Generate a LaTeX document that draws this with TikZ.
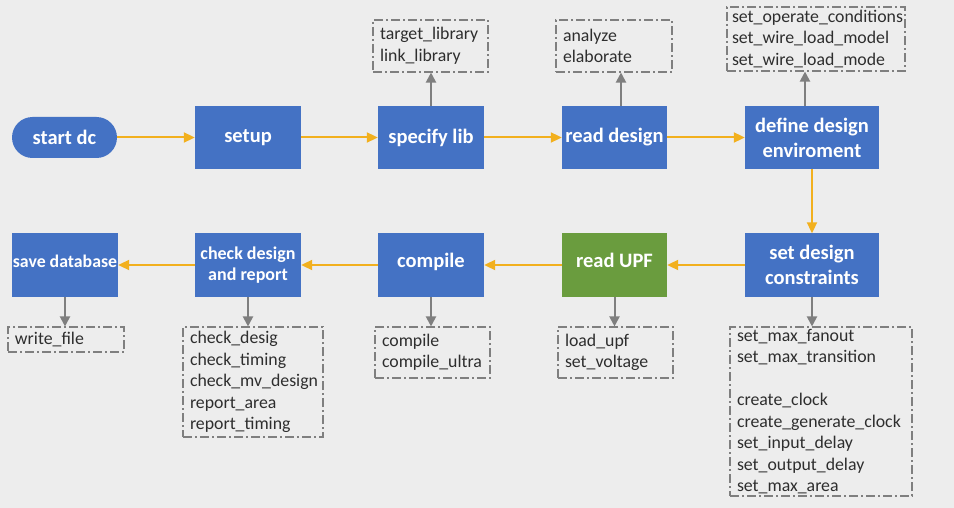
\documentclass[tikz,border=0pt]{standalone}
\usepackage{fontspec}
\setmainfont{Carlito}
\usetikzlibrary{arrows.meta}
\definecolor{bg}{HTML}{EDEDED}
\definecolor{boxblue}{HTML}{4472C4}
\definecolor{boxgreen}{HTML}{6A9C3E}
\definecolor{flow}{HTML}{F2B01E}
\definecolor{side}{HTML}{7F7F7F}
\definecolor{txt}{HTML}{2E2E2E}
\tikzset{
  stepbox/.style={fill=boxblue, draw=none, text=white, inner sep=0pt,
    font=\fontsize{20.5}{25}\selectfont\bfseries, align=center,
    minimum width=106pt, minimum height=63pt},
  greenbox/.style={stepbox, fill=boxgreen},
  lowtext/.style={text height=15.4pt, text depth=9.6pt},
  cmdbox/.style={draw=side, line width=1.1pt, dash pattern=on 9pt off 3pt on 2pt off 3pt,
    text=txt, font=\fontsize{17.8}{21.5}\selectfont, align=left, inner xsep=7pt, inner ysep=0pt},
  flowarrow/.style={draw=flow, line width=2pt, -{Triangle[length=11pt,width=10pt]}},
  sidearrow/.style={draw=side, line width=2pt, -{Triangle[length=10pt,width=10pt]}},
}
\begin{document}
\begin{tikzpicture}[x=1pt,y=-1pt]
\useasboundingbox[fill=bg] (0,0) rectangle (954,508);
% main flow boxes
\node[stepbox, minimum width=105pt, minimum height=41pt, rounded corners=20.5pt] (start) at (64.5,137.5) {start dc};
\node[stepbox] (setup) at (248,137.5) {setup};
\node[stepbox] (spec) at (431,137.5) {specify lib};
\node[stepbox, minimum width=105pt] (readd) at (614.5,137.5) {read design};
\node[stepbox, minimum width=134pt] (define) at (812,137.5) {define design\\enviroment};
\node[stepbox, minimum width=134pt] (sdc) at (812,265) {set design\\constraints};
\node[greenbox, minimum width=105pt, minimum height=64pt, lowtext] (upf) at (614.5,265) {read UPF};
\node[stepbox, minimum height=64pt, lowtext] (comp) at (431,265) {compile};
\node[stepbox, minimum height=64pt, font=\fontsize{18}{21.5}\selectfont\bfseries] (check) at (248,265) {check design\\and report};
\node[stepbox, minimum height=64pt, font=\fontsize{17.8}{22}\selectfont\bfseries, text height=14pt, text depth=9pt] (save) at (65,265) {save database};
% command boxes
\node[cmdbox, text width=101pt, minimum height=52pt] (cspec) at (430.5,46) {target\_library\\link\_library};
\node[cmdbox, text width=102pt, minimum height=52pt] (cread) at (614,46) {analyze\\elaborate};
\node[cmdbox, text width=168pt, minimum height=64pt, inner xsep=5pt] (cdef) at (816,39) {set\_operate\_conditions\\set\_wire\_load\_model\\set\_wire\_load\_mode};
\node[cmdbox, text width=168pt, minimum height=169pt] (csdc) at (821,411.5) {set\_max\_fanout\\set\_max\_transition\\[21.5pt]create\_clock\\create\_generate\_clock\\set\_input\_delay\\set\_output\_delay\\set\_max\_area};
\node[cmdbox, text width=101pt, minimum height=51pt] (cupf) at (615.5,352.5) {load\_upf\\set\_voltage};
\node[cmdbox, text width=101pt, minimum height=51pt] (ccomp) at (432.5,352.5) {compile\\compile\_ultra};
\node[cmdbox, text width=126pt, minimum height=110pt] (ccheck) at (253,382) {check\_desig\\check\_timing\\check\_mv\_design\\report\_area\\report\_timing};
\node[cmdbox, text width=102pt, minimum height=25pt] (csave) at (66,339.5) {write\_file};
% flow arrows
\draw[flowarrow] (start) -- (setup);
\draw[flowarrow] (setup) -- (spec);
\draw[flowarrow] (spec) -- (readd);
\draw[flowarrow] (readd) -- (define);
\draw[flowarrow] (define) -- (sdc);
\draw[flowarrow] (sdc) -- (upf);
\draw[flowarrow] (upf) -- (comp);
\draw[flowarrow] (comp) -- (check);
\draw[flowarrow] (check) -- (save);
% side arrows
\draw[sidearrow] (spec.north) -- (spec.north |- cspec.south);
\draw[sidearrow] ([xshift=6.5pt]readd.north) -- ([xshift=6.5pt]readd.north |- cread.south);
\draw[sidearrow] ([xshift=-7pt]define.north) -- ([xshift=-7pt]define.north |- cdef.south);
\draw[sidearrow] (sdc.south) -- (sdc.south |- csdc.north);
\draw[sidearrow] (upf.south) -- (upf.south |- cupf.north);
\draw[sidearrow] (comp.south) -- (comp.south |- ccomp.north);
\draw[sidearrow] (check.south) -- (check.south |- ccheck.north);
\draw[sidearrow] (save.south) -- (save.south |- csave.north);
\end{tikzpicture}
\end{document}
